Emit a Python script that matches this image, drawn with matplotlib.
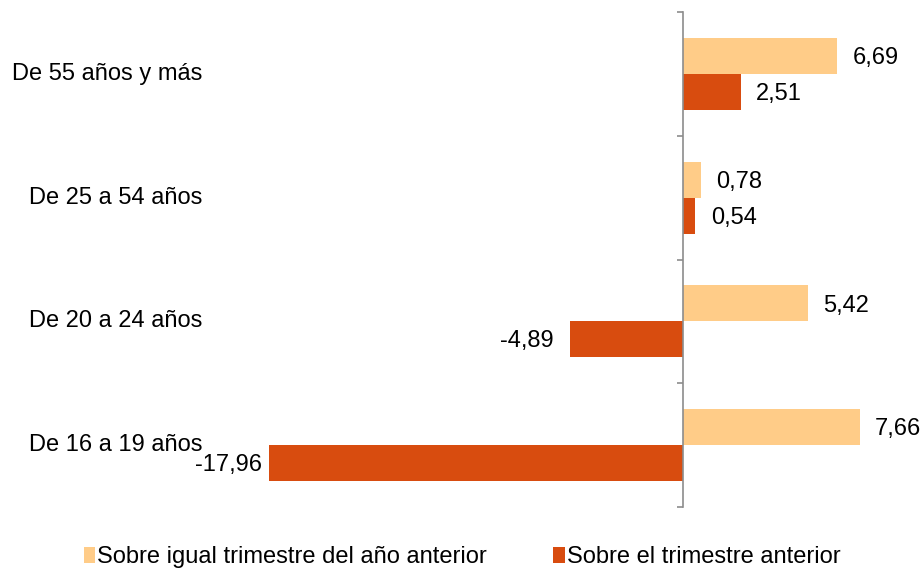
import numpy as np
import matplotlib
matplotlib.use("Agg")
import matplotlib.pyplot as plt
import matplotlib.transforms as mtransforms

categories = ["De 55 años y más", "De 25 a 54 años", "De 20 a 24 años", "De 16 a 19 años"]
series_names = ["Sobre igual trimestre del año anterior", "Sobre el trimestre anterior"]
interanual = [6.69, 0.78, 5.42, 7.66]
trimestral = [2.51, 0.54, -4.89, -17.96]

LIGHT = "#FFCC88"
DARK = "#D84C0F"

plt.rcParams["font.family"] = ["Liberation Sans", "DejaVu Sans"]
FS = 17

fig = plt.figure(figsize=(9.24, 5.70), dpi=100)
W, H = 924, 570
# plot area in pixels: left 210.5, right 915.8, top 12, bottom 507
ax = fig.add_axes([210.5 / W, 1 - 507 / H, (915.8 - 210.5) / W, (507 - 12) / H])

y = np.arange(len(categories))
h = 0.29
b1 = ax.barh(y - h / 2, interanual, height=h, color=LIGHT, label=series_names[0])
b2 = ax.barh(y + h / 2, trimestral, height=h, color=DARK, label=series_names[1])

ax.set_xlim(-20.5, 10.1)
ax.set_ylim(len(categories) - 0.5, -0.5)

# axis line at zero with ticks at category boundaries
for s in ["top", "right", "bottom"]:
    ax.spines[s].set_visible(False)
ax.spines["left"].set_position(("data", 0))
ax.spines["left"].set_color("#8c8c8c")
ax.spines["left"].set_linewidth(1.2)
ax.set_xticks([])
ax.set_yticks(np.arange(len(categories) + 1) - 0.5)
ax.set_yticklabels([])
ax.tick_params(axis="y", length=4.5, width=1.2, color="#8c8c8c", direction="out")

# category labels, right aligned left of the plot area
tr = mtransforms.blended_transform_factory(ax.transAxes, ax.transData)
for yi, cat in zip(y, categories):
    ax.text(-0.012, yi, cat, transform=tr, ha="right", va="center", fontsize=FS)

# value labels
def fmt(v):
    return f"{v:.2f}".replace(".", ",")

for bars, vals in ((b1, interanual), (b2, trimestral)):
    for bar, v in zip(bars, vals):
        yc = bar.get_y() + bar.get_height() / 2
        if v >= 0:
            ax.annotate(fmt(v), (v, yc), xytext=(11, -1.5), textcoords="offset points",
                        ha="left", va="center", fontsize=FS)
        else:
            pad = 5 if v < -15 else 12
            ax.annotate(fmt(v), (v, yc), xytext=(-pad, -1.5), textcoords="offset points",
                        ha="right", va="center", fontsize=FS)

fig.legend(handles=[b1, b2], labels=series_names, loc="center",
           bbox_to_anchor=(0.5, 1 - 557 / H), ncol=2, frameon=False, fontsize=FS,
           handlelength=0.5, handleheight=0.65, handletextpad=0.08, columnspacing=2.8,
           borderpad=0)

fig.savefig("out.png", dpi=100)
